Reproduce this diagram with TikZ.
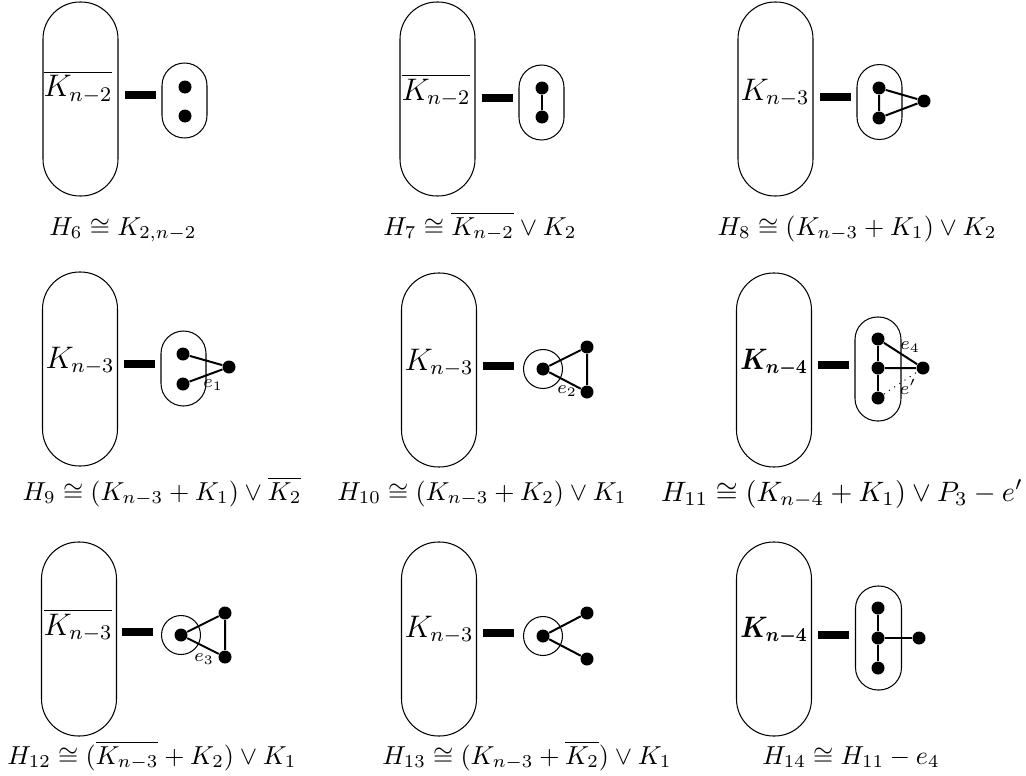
\documentclass[tikz,border=0pt]{standalone}
\usetikzlibrary{calc}
\newdimen\pxu \pxu=0.385pt
\begin{document}
\begin{tikzpicture}[x=0.385pt,y=-0.385pt,
  bigoval/.style={draw,rectangle,rounded corners=37\pxu,minimum width=75\pxu,minimum height=194\pxu,inner sep=0pt},
  smalloval/.style={draw,rectangle,rounded corners=22.5\pxu,minimum width=45\pxu,minimum height=75\pxu,inner sep=0pt},
  talloval/.style={draw,rectangle,rounded corners=22.5\pxu,minimum width=46\pxu,minimum height=104\pxu,inner sep=0pt},
  ring/.style={draw,circle,minimum size=39\pxu,inner sep=0pt},
  vtx/.style={circle,fill=black,minimum size=13\pxu,inner sep=0pt},
  joinbar/.style={rectangle,fill=black,minimum width=31\pxu,minimum height=8\pxu,inner sep=0pt},
  ovtext/.style={anchor=base west,inner sep=0pt,font=\large},
  boldtext/.style={anchor=base west,inner sep=0pt,font=\large\boldmath,xscale=0.84,yscale=0.95},
  edge/.style={line width=2\pxu},
  elab/.style={font=\scriptsize,inner sep=0pt},
  caption/.style={anchor=base,inner sep=0pt}]
\useasboundingbox (0,0) rectangle (1026,776);

% ---------- H6 ----------
\node[bigoval] (B6) at (80.5,99) {};
\node[ovtext] (T6) at (43,97) {$\overline{K_{n-2}}$};
\node[joinbar] (J6) at (140.5,95) {};
\node[smalloval] (S6) at (184.5,100.5) {};
\node[vtx] (v6a) at (185,87) {};
\node[vtx] (v6b) at (185,116) {};
\node[caption] (L6) at (123,235) {$H_6\cong K_{2,n-2}$};

% ---------- H7 ----------
\node[bigoval] (B7) at (437.5,99) {};
\node[ovtext] (T7) at (401,100) {$\overline{K_{n-2}}$};
\node[joinbar] (J7) at (497,97.5) {};
\node[smalloval] (S7) at (541.5,102.5) {};
\node[vtx] (v7a) at (542,88) {};
\node[vtx] (v7b) at (542,117) {};
\draw[edge] (v7a) -- (v7b);
\node[caption] (L7) at (480,235) {$H_7\cong \overline{K_{n-2}}\vee K_2$};

% ---------- H8 ----------
\node[bigoval] (B8) at (775.5,99) {};
\node[ovtext] (T8) at (740,100) {$K_{n-3}$};
\node[joinbar] (J8) at (835,97) {};
\node[smalloval] (S8) at (879.5,102) {};
\node[vtx] (v8a) at (879,88) {};
\node[vtx] (v8b) at (879,118) {};
\node[vtx] (v8c) at (924,101) {};
\draw[edge] (v8a) -- (v8b) -- (v8c) -- (v8a);
\node[caption] (L8) at (857,235) {$H_8\cong (K_{n-3}+K_1)\vee K_2$};

% ---------- H9 ----------
\node[bigoval] (B9) at (80,369) {};
\node[ovtext] (T9) at (45,368) {$K_{n-3}$};
\node[joinbar] (J9) at (139,363.5) {};
\node[smalloval] (S9) at (183.5,368.5) {};
\node[vtx] (v9a) at (183,354) {};
\node[vtx] (v9b) at (183,384) {};
\node[vtx] (v9c) at (229,367) {};
\draw[edge] (v9a) -- (v9c) -- (v9b);
\node[elab] (e1) at (213,385) {$e_1$};
\node[caption] (L9) at (162,500) {$H_9\cong (K_{n-3}+K_1)\vee \overline{K_2}$};

% ---------- H10 ----------
\node[bigoval] (B10) at (439,370) {};
\node[ovtext] (T10) at (404,370) {$K_{n-3}$};
\node[joinbar] (J10) at (498,366) {};
\node[ring] (C10) at (543,369) {};
\node[vtx] (v10a) at (543,369) {};
\node[vtx] (v10b) at (587,347) {};
\node[vtx] (v10c) at (587,392) {};
\draw[edge] (v10a) -- (v10b) -- (v10c) -- (v10a);
\node[elab] (e2) at (567,391) {$e_2$};
\node[caption] (L10) at (482,500) {$H_{10}\cong (K_{n-3}+K_2)\vee K_1$};

% ---------- H11 ----------
\node[bigoval] (B11) at (774,370) {};
\node[boldtext] (T11) at (740,369) {$K_{n-4}$};
\node[joinbar] (J11) at (833.5,365) {};
\node[talloval] (S11) at (878,369) {};
\node[vtx] (v11a) at (878,339) {};
\node[vtx] (v11b) at (878,368) {};
\node[vtx] (v11c) at (878,398) {};
\node[vtx] (v11d) at (923,368) {};
\draw[edge] (v11a) -- (v11b) -- (v11c);
\draw[edge] (v11a) -- (v11d) -- (v11b);
\draw[dotted] (v11c) -- (v11d);
\node[elab] (e4) at (910,347) {$e_4$};
\node[elab] (ep) at (908,387) {$e'$};
\node[caption,scale=1.08] (L11) at (842,501) {$H_{11}\cong (K_{n-4}+K_1)\vee P_3-e'$};

% ---------- H12 ----------
\node[bigoval] (B12) at (79,639) {};
\node[ovtext] (T12) at (43,635) {$\overline{K_{n-3}}$};
\node[joinbar] (J12) at (137.5,631.5) {};
\node[ring] (C12) at (181,635) {};
\node[vtx] (v12a) at (181,635) {};
\node[vtx] (v12b) at (225,613) {};
\node[vtx] (v12c) at (225,657) {};
\draw[edge] (v12a) -- (v12b) -- (v12c) -- (v12a);
\node[elab] (e3) at (204,659) {$e_3$};
\node[caption] (L12) at (152,764) {$H_{12}\cong (\overline{K_{n-3}}+K_2)\vee K_1$};

% ---------- H13 ----------
\node[bigoval] (B13) at (439,639) {};
\node[ovtext] (T13) at (404,637) {$K_{n-3}$};
\node[joinbar] (J13) at (498,633) {};
\node[ring] (C13) at (543,636) {};
\node[vtx] (v13a) at (543,636) {};
\node[vtx] (v13b) at (587,613) {};
\node[vtx] (v13c) at (587,659) {};
\draw[edge] (v13b) -- (v13a) -- (v13c);
\node[caption] (L13) at (527,764) {$H_{13}\cong (K_{n-3}+\overline{K_2})\vee K_1$};

% ---------- H14 ----------
\node[bigoval] (B14) at (774,639) {};
\node[boldtext] (T14) at (740,637) {$K_{n-4}$};
\node[joinbar] (J14) at (833.5,634.5) {};
\node[talloval] (S14) at (878.5,638) {};
\node[vtx] (v14a) at (878,608) {};
\node[vtx] (v14b) at (878,638) {};
\node[vtx] (v14c) at (878,668) {};
\node[vtx] (v14d) at (919,638) {};
\draw[edge] (v14a) -- (v14b) -- (v14c);
\draw[edge] (v14b) -- (v14d);
\node[caption] (L14) at (851,764) {$H_{14}\cong H_{11}-e_4$};
\end{tikzpicture}
\end{document}
